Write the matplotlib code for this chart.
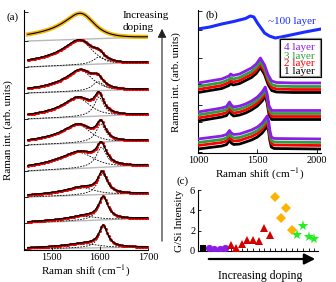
import numpy as np
import matplotlib
matplotlib.use("Agg")
import matplotlib.pyplot as plt

plt.rcParams['font.family'] = ['Liberation Serif', 'DejaVu Serif']
plt.rcParams['mathtext.fontset'] = 'stix'

W, H = 336, 282

# ---------------- Panel (a) data: fitted components (bottom -> top) ----------------
a_bg_rise = [2, 5, 4, 6, 5, 5, 4, 5, 4]
a_broad_center = [1575, 1575, 1570, 1565, 1562, 1560, 1565, 1565, 1566]
a_broad_hw = [45, 40, 40, 45, 36, 36, 35, 38, 40]
a_broad_height = [4, 4, 7, 15, 17, 18, 20, 23, 25]
a_broad_q = [-4, -4, -4, -4, -4, -5, -5, -4, -5]
a_narrow_center = [1607, 1607, 1605, 1603, 1602, 1598, 1596, 1598, 1600]
a_narrow_hw = [11, 12, 12, 13, 12, 12, 14, 14, 10]
a_narrow_height = [21, 22, 21, 20, 18, 19, 9, 7, 0]
a_xlim = (1442, 1700)
a_xticks = [1500, 1600, 1700]

# ---------------- Panel (b) data ----------------
b_blue_x = [1000, 1100, 1200, 1300, 1400, 1440, 1470, 1500, 1530, 1560, 1600, 1650, 1700, 1800, 1900, 2035]
b_blue_y = [124, 126, 129, 131.5, 134.5, 137, 136, 130, 125, 120, 117, 115, 116, 118.5, 121, 124]

b_g1_x = [1000, 1100, 1200, 1260, 1275, 1295, 1350, 1400, 1450, 1490, 1525, 1560, 1590, 1620, 1660, 1800, 2035]
b_g1_y = [0, 2, 4, 7, 9, 7.5, 9, 12, 15, 19, 25, 18, 8, 2, 0.5, 0, 0]
b_g2_x = [1000, 1100, 1200, 1240, 1265, 1280, 1300, 1350, 1400, 1450, 1500, 1540, 1566, 1582, 1598, 1620, 1700, 2035]
b_g2_y = [0, 2, 4, 5.5, 10, 7, 5, 6, 8, 11, 15, 20, 25, 18, 6, 1.5, 1.5, 1.5]
b_g3_x = [1000, 1100, 1200, 1240, 1265, 1280, 1300, 1350, 1400, 1450, 1500, 1540, 1565, 1582, 1594, 1604, 1617, 1640, 2035]
b_g3_y = [0, 1.5, 3, 4.5, 8.5, 6, 4.5, 5, 7, 9, 12, 16, 20, 23, 18, 9, 2, 0.5, 0]
b_layers = ['1 layer', '2 layer', '3 layer', '4 layer']
b_colors = ['#000000', '#ff0000', '#2e9e3e', '#8a1ee6']

# ---------------- Panel (c) data ----------------
c_sq = [0.28]
c_circ = [0.28, 0.22, 0.22, 0.25]
c_tri = [0.6, 0.3, 0.7, 1.1, 1.1, 0.95, 2.3, 1.6]
c_dia = [5.3, 3.2, 4.2, 2.1]
c_star = [1.6, 2.5, 1.4, 1.2]


def rect(x0, y0, x1, y1):
    return [x0 / W, 1 - y1 / H, (x1 - x0) / W, (y1 - y0) / H]


def bwf(x, c, g, h, q):
    t = (x - c) / g
    return h * (1 + t / q) ** 2 / (1 + t ** 2)


def lor(x, c, g, h):
    return h / (1 + ((x - c) / g) ** 2)


fig = plt.figure(figsize=(W / 100, H / 100), dpi=100)

# ================= Panel (a) =================
axa = fig.add_axes(rect(24, 10, 148, 250))
xs = np.linspace(1450, 1700, 300)
xd = np.arange(1450, 1700, 3.0)
spacing = 26
n = len(a_bg_rise)
for i in range(n):
    off = i * spacing
    bg = off + a_bg_rise[i] * (xs - 1450) / 250
    bgd = off + a_bg_rise[i] * (xd - 1450) / 250
    b1 = bwf(xs, a_broad_center[i], a_broad_hw[i], a_broad_height[i], a_broad_q[i])
    n1 = lor(xs, a_narrow_center[i], a_narrow_hw[i], a_narrow_height[i])
    b1d = bwf(xd, a_broad_center[i], a_broad_hw[i], a_broad_height[i], a_broad_q[i])
    n1d = lor(xd, a_narrow_center[i], a_narrow_hw[i], a_narrow_height[i])
    axa.plot(xs, bg, color='#b8b8b8', lw=1.0, zorder=1)
    if i < n - 1:
        axa.plot(xs, bg + b1, color='k', lw=0.6, ls=(0, (2, 1.5)), zorder=2)
        axa.plot(xs, bg + n1, color='k', lw=0.6, ls=(0, (2, 1.5)), zorder=2)
        axa.plot(xd, bgd + b1d + n1d, 'o', color='#ee0000', ms=2.2, mew=0, zorder=3)
        axa.plot(xs, bg + b1 + n1, color='k', lw=1.0, zorder=4)
    else:
        axa.plot(xs, bg + b1 + n1, color='#f7b500', lw=3.0, zorder=3)
        axa.plot(xs, bg + b1 + n1, color='k', lw=0.8, zorder=4)

axa.set_xlim(*a_xlim)
axa.set_ylim(-1, 239)
axa.set_xticks(a_xticks)
axa.set_yticks([i * spacing for i in range(n)] + [237])
axa.set_yticklabels([])
axa.tick_params(direction='in', length=3, width=0.6, labelsize=7.5, pad=2)
for s in ['top', 'right']:
    axa.spines[s].set_visible(False)
for s in ['left', 'bottom']:
    axa.spines[s].set_linewidth(0.8)
axa.set_xlabel('Raman shift (cm$^{-1}$)', fontsize=8, labelpad=1)
fig.text(8 / W, 1 - 130 / H, 'Raman int. (arb. units)', rotation=90, fontsize=8,
         ha='center', va='center')
fig.text(13 / W, 1 - 17 / H, '(a)', fontsize=8, ha='center', va='center')
fig.text(123 / W, 1 - 15 / H, 'Increasing', fontsize=8, ha='left', va='center')
fig.text(123 / W, 1 - 27 / H, 'doping', fontsize=8, ha='left', va='center')
fig.add_artist(matplotlib.patches.FancyArrowPatch(
    (162 / W, 1 - 244 / H), (162 / W, 1 - 26 / H), transform=fig.transFigure,
    arrowstyle='-|>', mutation_scale=13, lw=0.8, color='#222222'))

# ================= Panel (b) =================
axb = fig.add_axes(rect(198, 10, 321, 153))
groups = [(b_g3_x, b_g3_y, [4, 7.5, 10.5, 14]),
          (b_g2_x, b_g2_y, [32, 35, 38, 41]),
          (b_g1_x, b_g1_y, [60.5, 63.5, 66.5, 70])]
for gx, gy, offs in groups:
    for k in range(4):
        axb.plot(gx, np.array(gy) + offs[k], color=b_colors[k], lw=2.0, zorder=2 + k)
axb.plot(b_blue_x, b_blue_y, color='#1a2cff', lw=2.2)
axb.set_xlim(1000, 2035)
axb.set_ylim(0, 143)
axb.set_xticks([1000, 1500, 2000])
axb.set_yticks([1, 31, 48, 69, 95, 123, 142])
axb.set_yticklabels([])
axb.tick_params(direction='in', length=3, width=0.6, labelsize=7.5, pad=2)
for s in ['top', 'right']:
    axb.spines[s].set_visible(False)
for s in ['left', 'bottom']:
    axb.spines[s].set_linewidth(0.8)
axb.set_xlabel('Raman shift (cm$^{-1}$)', fontsize=8, labelpad=1)
fig.text(176 / W, 1 - 82 / H, 'Raman int. (arb. units)', rotation=90, fontsize=8,
         ha='center', va='center')
fig.text(212 / W, 1 - 15 / H, '(b)', fontsize=8, ha='center', va='center')
fig.text(268 / W, 1 - 21 / H, '~100 layer', fontsize=8, color='#1a2cff', ha='left', va='center')
# legend box
fig.add_artist(matplotlib.patches.Rectangle((280 / W, 1 - 77 / H), 41 / W, 38 / H,
               transform=fig.transFigure, fill=True, fc='white', ec='#888888', lw=1.6, zorder=5))
fig.add_artist(matplotlib.patches.Rectangle((280 / W, 1 - 77 / H), 41 / W, 38 / H,
               transform=fig.transFigure, fill=False, ec='black', lw=0.7, zorder=6))
for k, yy in zip([3, 2, 1, 0], [48, 56, 64, 72]):
    fig.text(284 / W, 1 - yy / H, b_layers[k], fontsize=8, color=b_colors[k],
             ha='left', va='center', zorder=7)

# ================= Panel (c) =================
axc = fig.add_axes(rect(198, 190, 318, 251))
i0 = 0
axc.plot([i0], c_sq, 's', color='k', ms=4.5, mew=0, zorder=3)
xi = np.arange(1, 1 + len(c_circ))
axc.plot(xi, c_circ, 'o', color='#8a1ee6', ms=5.2, mew=0, zorder=3)
xi2 = np.arange(xi[-1] + 1, xi[-1] + 1 + len(c_tri))
axc.plot(xi2, c_tri, '^', color='#d40000', ms=6, mew=0, zorder=3)
xi3 = np.arange(xi2[-1] + 1, xi2[-1] + 1 + len(c_dia))
axc.plot(xi3, c_dia, 'D', color='#ffb300', ms=4.8, mew=0, zorder=3)
xi4 = np.arange(xi3[-1] + 1, xi3[-1] + 1 + len(c_star))
axc.plot(xi4, c_star, '*', color='#22ee22', ms=8, mew=0, zorder=3)
axc.set_xlim(-0.9, 20.7)
axc.set_ylim(0, 6)
axc.set_yticks([0, 2, 4, 6])
axc.set_xticks(np.arange(0, 21))
axc.set_xticklabels([])
axc.tick_params(direction='in', length=2.5, width=0.6, labelsize=7.5, pad=2)
for s in ['top', 'right']:
    axc.spines[s].set_visible(False)
for s in ['left', 'bottom']:
    axc.spines[s].set_linewidth(0.8)
fig.text(180 / W, 1 - 221 / H, 'G/Si Intensity', rotation=90, fontsize=8,
         ha='center', va='center')
fig.text(183 / W, 1 - 181 / H, '(c)', fontsize=8, ha='center', va='center')
fig.add_artist(matplotlib.patches.FancyArrowPatch(
    (206 / W, 1 - 259 / H), (318 / W, 1 - 259 / H), transform=fig.transFigure,
    arrowstyle='-|>', mutation_scale=16, lw=1.6, color='black'))
fig.text(260 / W, 1 - 276 / H, 'Increasing doping', fontsize=8.5, ha='center', va='center')

fig.savefig('out.png', dpi=100)
